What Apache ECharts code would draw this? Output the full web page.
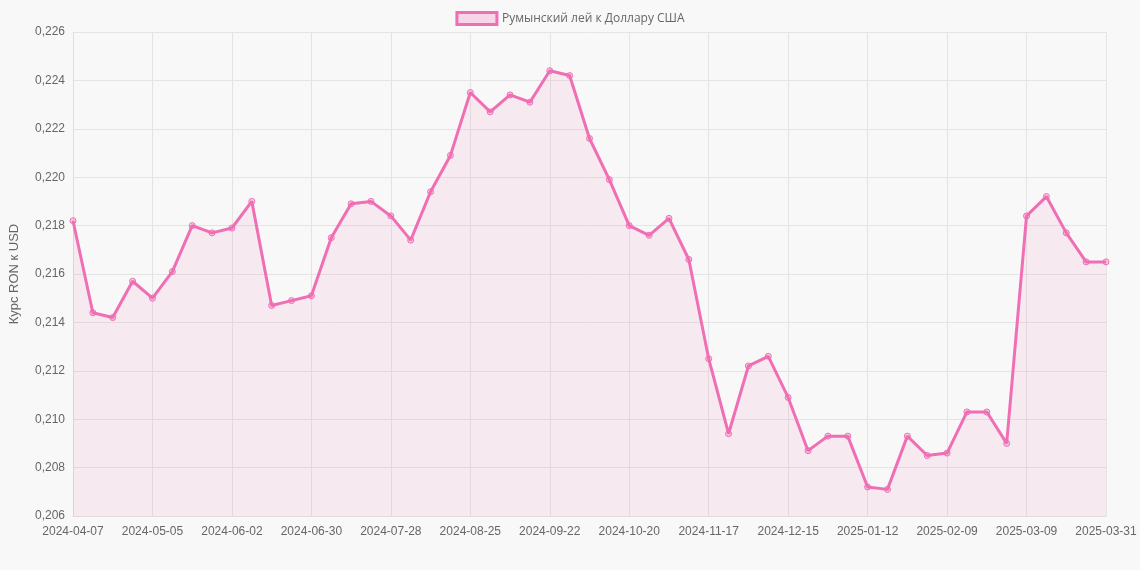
<!DOCTYPE html>
<html>
<head>
<meta charset="utf-8">
<script src="https://cdn.jsdelivr.net/npm/echarts@6/dist/echarts.min.js"></script>
<style>html,body{margin:0;background:#f8f8f8}#main{width:1140px;height:570px}</style>
</head>
<body>
<div id="main"></div>
<script>
// даты: еженедельно с 2024-04-07, последняя точка 2025-03-31
var dates = [];
var d0 = new Date(Date.UTC(2024, 3, 7));
for (var i = 0; i < 52; i++) {
    dates.push(new Date(d0.getTime() + i * 7 * 86400000).toISOString().slice(0, 10));
}
dates.push('2025-03-31');

var rates = [
    0.2182, 0.2144, 0.2142, 0.2157, 0.2150, 0.2161, 0.2180, 0.2177, 0.2179, 0.2190,
    0.2147, 0.2149, 0.2151, 0.2175, 0.2189, 0.2190, 0.2184, 0.2174, 0.2194, 0.2209,
    0.2235, 0.2227, 0.2234, 0.2231, 0.2244, 0.2242, 0.2216, 0.2199, 0.2180, 0.2176,
    0.2183, 0.2166, 0.2125, 0.2094, 0.2122, 0.2126, 0.2109, 0.2087, 0.2093, 0.2093,
    0.2072, 0.2071, 0.2093, 0.2085, 0.2086, 0.2103, 0.2103, 0.2090, 0.2184, 0.2192,
    0.2177, 0.2165, 0.2165
];

var showTick = function (i) { return i % 4 === 0 || i === dates.length - 1; };

var myChart = echarts.init(document.getElementById('main'));
var option = {
    backgroundColor: '#f8f8f8',
    legend: {
        top: 6,
        itemWidth: 40, itemHeight: 12,
        textStyle: { color: '#666', fontSize: 12, fontFamily: 'Open Sans' },
        data: [{ name: 'Румынский лей к Доллару США', icon: 'rect',
                 itemStyle: { color: 'rgba(240,110,180,0.25)', borderColor: '#f06eb4', borderWidth: 3 } }]
    },
    grid: { left: 68, right: 34, top: 32, bottom: 54 },
    xAxis: {
        type: 'category',
        data: dates,
        boundaryGap: false,
        axisLine: { lineStyle: { color: '#ddd' } },
        axisTick: { show: false },
        axisLabel: { interval: showTick, color: '#666', fontSize: 12, margin: 10 },
        splitLine: { show: true, interval: showTick, lineStyle: { color: '#e4e4e4' } }
    },
    yAxis: {
        type: 'value',
        min: 0.206, max: 0.226, interval: 0.002,
        name: 'Курс RON к USD',
        nameLocation: 'middle', nameGap: 52,
        nameTextStyle: { color: '#666', fontSize: 13 },
        axisLine: { show: true, lineStyle: { color: '#ddd' } },
        axisLabel: { color: '#666', fontSize: 12, formatter: function (v) { return v.toFixed(3).replace('.', ','); } },
        splitLine: { lineStyle: { color: '#e4e4e4' } }
    },
    series: [{
        name: 'Румынский лей к Доллару США',
        type: 'line',
        data: rates,
        symbol: 'circle', symbolSize: 6,
        itemStyle: { color: 'rgba(240,110,180,0.3)', borderColor: '#f06eb4', borderWidth: 1 },
        lineStyle: { color: '#f06eb4', width: 3 },
        areaStyle: { color: 'rgba(240,110,180,0.15)' }
    }]
};
myChart.setOption(option);
</script>
</body>
</html>
